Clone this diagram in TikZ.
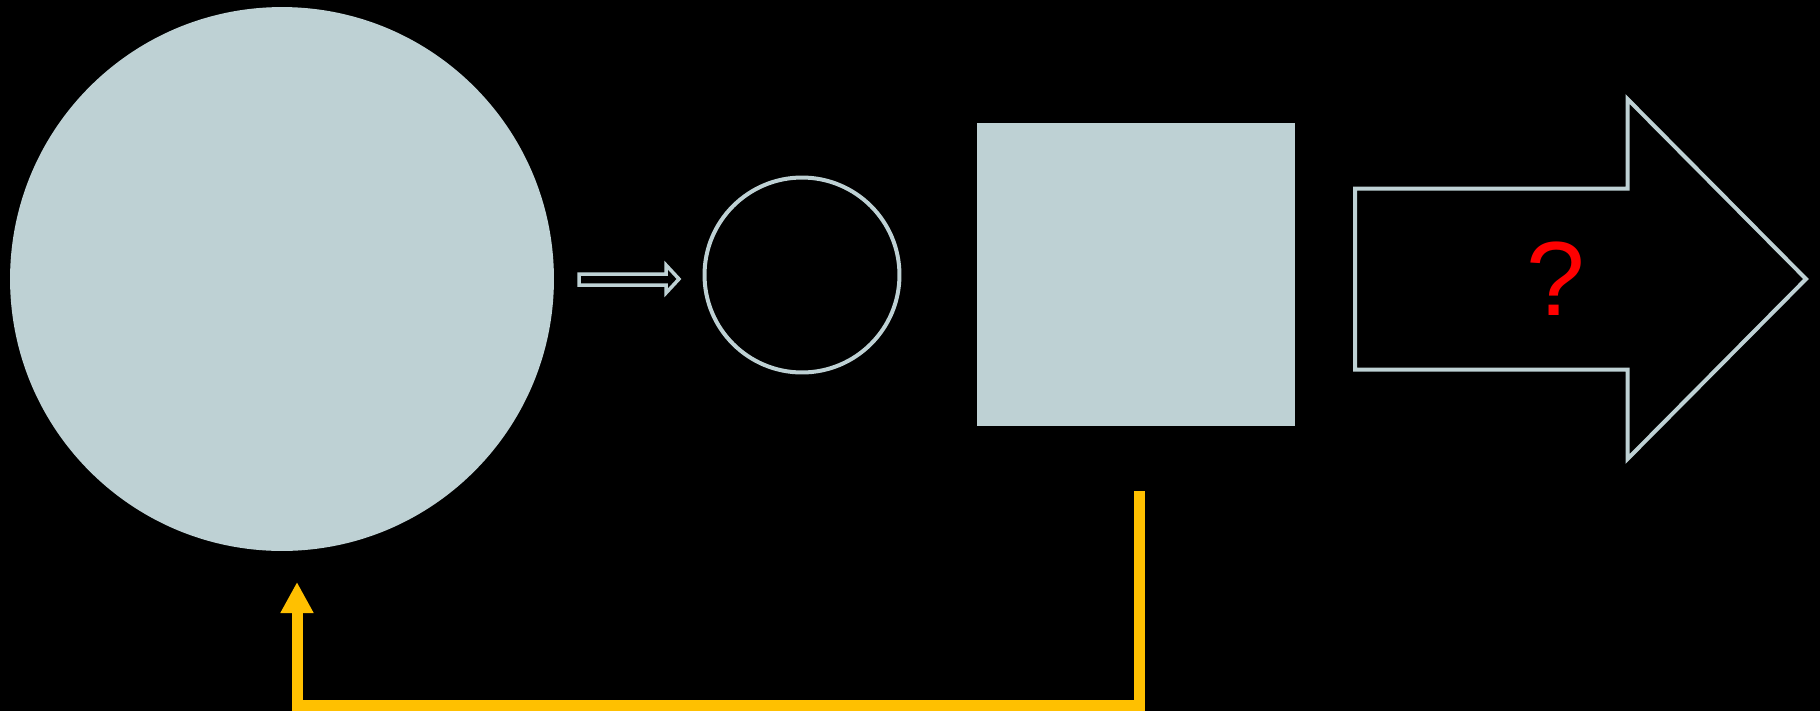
\documentclass[tikz,border=0pt]{standalone}
\usepackage{fontspec}
\newfontfamily\qfont{Liberation Sans}
\usepackage{tikz}
\usetikzlibrary{positioning,arrows.meta}
\definecolor{paleblue}{RGB}{190,209,212}
\definecolor{gold}{RGB}{255,192,0}
\tikzset{
  solidnode/.style={fill=paleblue, inner sep=0pt},
  ringnode/.style={circle, draw=paleblue, line width=0.08cm, inner sep=0pt, minimum size=3.9cm},
  hollowarrow/.style={draw=paleblue, line join=miter},
  feedback/.style={draw=gold, line width=0.22cm, -{Triangle[width=0.62cm, length=0.62cm]}},
  quest/.style={text=red, inner sep=0pt, font=\qfont\fontsize{60}{60}\selectfont}
}

\begin{document}
\begin{tikzpicture}[x=0.02cm, y=-0.02cm]
  % background and page size
  \fill[black] (0,0) rectangle (1820,711);
  \useasboundingbox (0,0) rectangle (1820,711);

  \node[solidnode, circle, minimum size=10.88cm] (core) at (282,279) {};
  \node[ringnode] (ring) at (802,275) {};
  \node[solidnode, minimum width=6.36cm, minimum height=6.06cm] (block) at (1136,274.5) {};

  % small hollow arrow
  \draw[hollowarrow, line width=0.07cm] (579,274) -- (666,274) -- (666,265) -- (679,279)
    -- (666,293) -- (666,285) -- (579,285) -- cycle;

  % big hollow arrow
  \draw[hollowarrow, line width=0.08cm] (1355,188.5) -- (1627.5,188.5) -- (1627.5,99) -- (1806,279)
    -- (1627.5,459) -- (1627.5,369.5) -- (1355,369.5) -- cycle;
  \node[quest] (ask) at (1556,278.5) {?};

  % feedback loop
  \coordinate (fbstart) at (1139,491);
  \coordinate (fbturn) at (297,705);
  \coordinate (fbend) at (297,582);
  \draw[feedback] (fbstart) |- (fbturn) -- (fbend);
\end{tikzpicture}
\end{document}
